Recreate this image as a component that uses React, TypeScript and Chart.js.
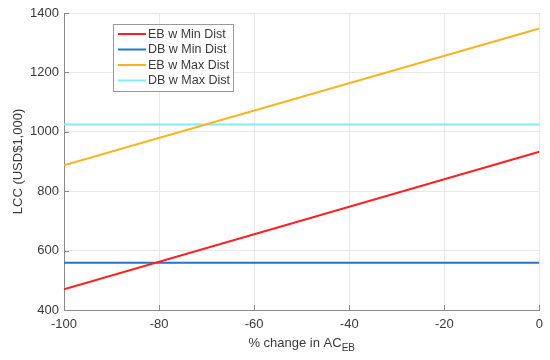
import React, { useEffect, useRef } from "react";
import { Chart, registerables } from "chart.js";

Chart.register(...registerables);

const xValues = [-100, 0];
const ebMin = [470, 933];
const dbMin = [559, 559];
const ebMax = [887, 1348];
const dbMax = [1025, 1025];
const seriesLabels = ["EB w Min Dist", "DB w Min Dist", "EB w Max Dist", "DB w Max Dist"];
const seriesColors = ["#ff1f1f", "#1f78c4", "#f6b41f", "#86e8f8"];
const xTicks = [-100, -80, -60, -40, -20, 0];
const yTicks = [400, 600, 800, 1000, 1200, 1400];
const yTitle = "LCC (USD$1,000)";
const xTitleMain = "% change in AC";
const xTitleSub = "EB";

const FONT = "'Liberation Sans', Arial, sans-serif";
const TEXT = "#3a3a3a";

const decorPlugin = {
  id: "decor",
  afterDraw(chart: any) {
    const ctx = chart.ctx;
    const area = chart.chartArea;
    const xs = chart.scales.x;
    const ys = chart.scales.y;
    ctx.save();
    // inward ticks
    ctx.strokeStyle = "#8a8a8a";
    ctx.lineWidth = 1;
    ctx.beginPath();
    xTicks.forEach((v) => {
      const px = Math.round(xs.getPixelForValue(v)) + 0.5;
      ctx.moveTo(px, area.bottom);
      ctx.lineTo(px, area.bottom - 5);
    });
    yTicks.forEach((v) => {
      const py = Math.round(ys.getPixelForValue(v)) + 0.5;
      ctx.moveTo(area.left, py);
      ctx.lineTo(area.left + 5, py);
    });
    ctx.stroke();

    // x title with subscript
    ctx.fillStyle = TEXT;
    ctx.textBaseline = "alphabetic";
    ctx.textAlign = "left";
    const mainFont = `13px ${FONT}`;
    const subFont = `10px ${FONT}`;
    ctx.font = mainFont;
    const w1 = ctx.measureText(xTitleMain).width;
    ctx.font = subFont;
    const w2 = ctx.measureText(xTitleSub).width;
    const cx = (area.left + area.right) / 2;
    const x0 = cx - (w1 + w2) / 2;
    ctx.font = mainFont;
    ctx.fillText(xTitleMain, x0, 347);
    ctx.font = subFont;
    ctx.fillText(xTitleSub, x0 + w1, 351);

    // legend
    const lx = 113.5, ly = 24.5, lw = 120, lh = 67;
    ctx.fillStyle = "#ffffff";
    ctx.fillRect(lx, ly, lw, lh);
    ctx.strokeStyle = "#9a9a9a";
    ctx.lineWidth = 1;
    ctx.strokeRect(lx, ly, lw, lh);
    const rows = [34, 49.5, 65, 80.5];
    ctx.font = `12.5px ${FONT}`;
    ctx.textBaseline = "middle";
    chart.data.datasets.forEach((ds: any, i: number) => {
      ctx.strokeStyle = ds.borderColor;
      ctx.lineWidth = 2;
      ctx.beginPath();
      ctx.moveTo(118, rows[i]);
      ctx.lineTo(146, rows[i]);
      ctx.stroke();
      ctx.fillStyle = TEXT;
      ctx.fillText(ds.label, 148, rows[i] + 0.5);
    });
    ctx.restore();
  },
};

export default function App() {
  const ref = useRef<HTMLCanvasElement | null>(null);
  useEffect(() => {
    if (!ref.current) return;
    const series = [ebMin, dbMin, ebMax, dbMax];
    const chart = new Chart(ref.current, {
      type: "line",
      data: {
        datasets: series.map((s, i) => ({
          label: seriesLabels[i],
          data: xValues.map((x, j) => ({ x, y: s[j] })),
          borderColor: seriesColors[i],
          backgroundColor: seriesColors[i],
          borderWidth: 2,
          pointRadius: 0,
          tension: 0,
        })),
      },
      options: {
        animation: false,
        responsive: false,
        layout: { padding: { left: 0, right: 9, top: 13, bottom: 0 } },
        plugins: { legend: { display: false }, tooltip: { enabled: false } },
        scales: {
          x: {
            type: "linear",
            min: -100,
            max: 0,
            afterBuildTicks: (s: any) => {
              s.ticks = xTicks.map((v) => ({ value: v }));
            },
            afterFit: (s: any) => {
              s.height = 50;
            },
            grid: { color: "#e8e8e8", drawTicks: false },
            border: { color: "#8a8a8a" },
            ticks: {
              padding: 7,
              color: TEXT,
              font: { family: FONT, size: 13 },
              maxRotation: 0,
              callback: (v: any) => String(v),
            },
          },
          y: {
            type: "linear",
            min: 400,
            max: 1400,
            afterBuildTicks: (s: any) => {
              s.ticks = yTicks.map((v) => ({ value: v }));
            },
            afterFit: (s: any) => {
              s.width = 64;
            },
            grid: { color: "#e8e8e8", drawTicks: false },
            border: { color: "#8a8a8a" },
            ticks: {
              padding: 5,
              color: TEXT,
              font: { family: FONT, size: 13 },
              callback: (v: any) => String(v),
            },
            title: {
              display: true,
              text: yTitle,
              color: TEXT,
              font: { family: FONT, size: 13 },
              padding: { top: 11, bottom: 0 },
            },
          },
        },
      },
      plugins: [decorPlugin],
    } as any);
    return () => chart.destroy();
  }, []);
  return (
    <div style={{ position: "fixed", left: 0, top: 0, width: 550, height: 360, background: "#fff" }}>
      <canvas ref={ref} width={550} height={360} style={{ display: "block" }} />
    </div>
  );
}
